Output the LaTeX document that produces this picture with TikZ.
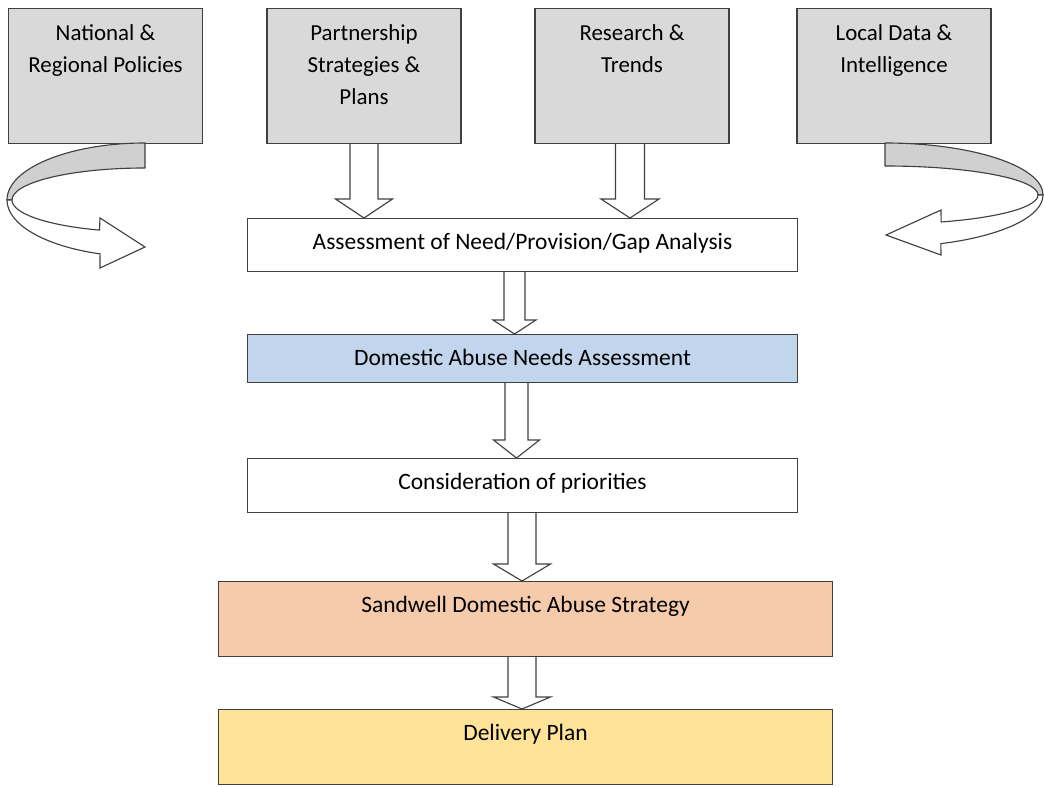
\documentclass[tikz,border=0pt]{standalone}
\usepackage{fontspec}
\setmainfont{Carlito}
\usetikzlibrary{calc}

\definecolor{boxgrey}{RGB}{217,217,217}
\definecolor{ribgrey}{RGB}{208,208,208}
\definecolor{needsblue}{RGB}{193,214,237}
\definecolor{stratpeach}{RGB}{246,203,172}
\definecolor{planyellow}{RGB}{254,227,152}
\definecolor{edgegrey}{RGB}{64,64,64}

% hollow block arrow: source, target, x, shaft half width, head half width, head length
\newcommand{\blockdown}[6]{%
  \draw[blockarrow] ($(#3,0 |- #1.south)+(-#4,0)$) -- ($(#3,0 |- #2.north)+(-#4,#6)$)
    -- ($(#3,0 |- #2.north)+(-#5,#6)$) -- (#3,0 |- #2.north)
    -- ($(#3,0 |- #2.north)+(#5,#6)$) -- ($(#3,0 |- #2.north)+(#4,#6)$)
    -- ($(#3,0 |- #1.south)+(#4,0)$);
}

\begin{document}
\begin{tikzpicture}[x=0.025cm, y=0.025cm,
  srcbox/.style={draw=edgegrey, line width=0.8pt, fill=boxgrey, anchor=north,
    inner xsep=0pt, inner ysep=0pt, text width=4.85cm, align=flush center,
    text height=0.7875cm, text depth=2.5875cm, font=\fontsize{16.3}{23}\selectfont},
  stagebox/.style={draw=edgegrey, line width=0.8pt, anchor=north, inner xsep=0pt,
    inner ysep=0pt, text height=0.775cm, text depth=#1, font=\fontsize{16.7}{23}\selectfont},
  blockarrow/.style={draw=edgegrey, line width=0.8pt, line join=miter},
  ribback/.style={draw=edgegrey, line width=0.8pt, fill=ribgrey, line join=round},
  ribfront/.style={draw=edgegrey, line width=0.8pt, fill=white, line join=miter}
]
\useasboundingbox (0,0) rectangle (1044,-787);

% sources
\node[srcbox] (natpol) at (105.5,-8) {National \&\\Regional Policies};
\node[srcbox] (partner) at (364,-8) {Partnership\\Strategies \&\\Plans};
\node[srcbox] (research) at (632,-8) {Research \&\\Trends};
\node[srcbox] (localdata) at (894,-8) {Local Data \&\\Intelligence};

% stages
\node[stagebox=0.55cm, minimum width=13.725cm] (assess) at (522.5,-218) {Assessment of Need/Provision/Gap Analysis};
\node[stagebox=0.425cm, minimum width=13.725cm, fill=needsblue] (needs) at (522.5,-334) {Domestic Abuse Needs Assessment};
\node[stagebox=0.575cm, minimum width=13.725cm] (consid) at (522.5,-458) {Consideration of priorities};
\node[stagebox=1.1cm, minimum width=15.325cm, fill=stratpeach] (strategy) at (525.5,-581) {Sandwell Domestic Abuse Strategy};
\node[stagebox=1.1cm, minimum width=15.325cm, fill=planyellow] (plan) at (525.5,-709) {Delivery Plan};

% block arrows
\blockdown{partner}{assess}{364}{14}{28.5}{19}
\blockdown{research}{assess}{630}{14.5}{29}{19}
\blockdown{assess}{needs}{514.5}{10.5}{21.5}{14}
\blockdown{needs}{consid}{516.5}{11.5}{23}{18}
\blockdown{consid}{strategy}{522}{14}{28.5}{17}
\blockdown{strategy}{plan}{522}{14}{28.5}{12}

% curved arrow, left
\draw[ribback] (145,-143) arc[start angle=90, end angle=180, x radius=138, y radius=57]
  -- (12,-200) arc[start angle=180, end angle=90, x radius=133, y radius=32] -- cycle;
\draw[ribfront] (7,-200) arc[start angle=180, end angle=251, x radius=138, y radius=57]
  -- (100,-268) -- (145,-247) -- (100,-218) -- (99.5,-230.1)
  arc[start angle=250, end angle=180, x radius=133, y radius=32] -- cycle;

% curved arrow, right
\draw[ribback] (885,-143) arc[start angle=90, end angle=0, x radius=158, y radius=52]
  -- (1038,-195) arc[start angle=0, end angle=90, x radius=153, y radius=29] -- cycle;
\draw[ribfront] (1043,-195) arc[start angle=0, end angle=-69.3, x radius=158, y radius=52]
  -- (941,-255) -- (886,-235) -- (941,-210) -- (941.1,-222)
  arc[start angle=-68.5, end angle=0, x radius=153, y radius=29] -- cycle;

\end{tikzpicture}
\end{document}
